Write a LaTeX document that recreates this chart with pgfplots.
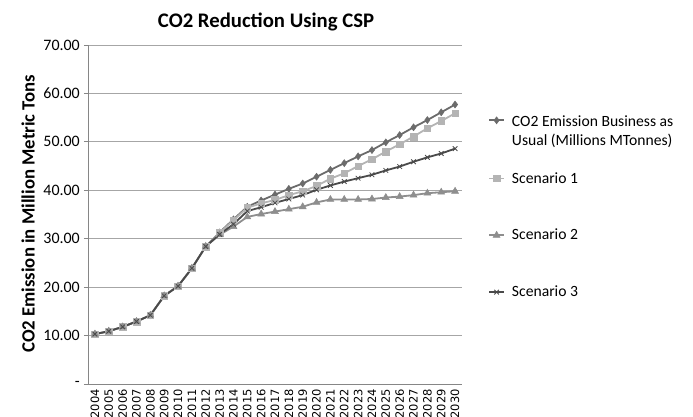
\documentclass[border=0pt]{standalone}
\usepackage{fontspec}
\setmainfont{Carlito}
\newfontfamily\dejavu{DejaVu Sans}
\usepackage{pgfplots}
\usepackage{pgfplotstable}
\pgfplotsset{compat=1.18}
\definecolor{cbau}{HTML}{6B6B6B}
\definecolor{cs1}{HTML}{B4B4B4}
\definecolor{cs2}{HTML}{8E8E8E}
\definecolor{cs3}{HTML}{4A4A4A}
\definecolor{cgrid}{HTML}{A6A6A6}
\definecolor{caxis}{HTML}{868686}
\pgfplotstableread{
year bau s1 s2 s3
2004 10.3 10.3 10.3 10.3
2005 10.9 10.9 10.9 10.9
2006 11.8 11.8 11.8 11.8
2007 12.9 12.9 12.9 12.9
2008 14.2 14.2 14.2 14.2
2009 18.2 18.2 18.2 18.2
2010 20.2 20.2 20.2 20.2
2011 23.9 23.9 23.9 23.9
2012 28.4 28.4 28.4 28.4
2013 31.3 31.2 30.8 30.9
2014 34.0 33.8 32.5 33.0
2015 36.6 36.4 34.5 35.7
2016 37.9 37.3 35.1 36.5
2017 39.1 38.0 35.6 37.4
2018 40.3 39.0 36.1 38.2
2019 41.4 39.8 36.6 39.0
2020 42.8 40.9 37.5 40.1
2021 44.2 42.4 38.1 41.0
2022 45.6 43.5 38.1 41.8
2023 47.0 45.0 38.1 42.5
2024 48.3 46.4 38.2 43.2
2025 49.9 48.0 38.5 44.1
2026 51.4 49.5 38.7 44.9
2027 53.0 51.1 39.0 45.9
2028 54.5 52.8 39.4 46.8
2029 56.1 54.3 39.6 47.6
2030 57.7 55.9 39.8 48.6
}\datatable
\begin{document}
\begin{tikzpicture}
\path[use as bounding box] (-88bp,-33bp) rectangle (605bp,384bp);
\begin{axis}[
  at={(0,0)}, anchor=south west,
  scale only axis, width=374bp, height=339bp,
  xmin=2003.5, xmax=2030.5,
  ymin=0, ymax=70,
  xtick=data,
  ytick={0,10,...,70},
  yticklabels={-,10.00,20.00,30.00,40.00,50.00,60.00,70.00},
  axis x line*=bottom, axis y line*=left,
  axis line style={caxis, line width=0.8bp, -},
  ymajorgrids, grid style={cgrid, line width=0.8bp},
  xtick style={draw=none},
  ytick style={caxis, line width=0.8bp},
  tick align=outside, major tick length=4bp,
  xticklabel style={rotate=90, anchor=east, inner sep=1bp, font=\dejavu\fontsize{11.5}{12}\selectfont,
    /pgf/number format/1000 sep={}, /pgf/number format/assume math mode=true},
  yticklabel style={font=\fontsize{16}{18}\selectfont, inner sep=1bp, xshift=-3bp},
  title={CO2 Reduction Using CSP},
  title style={at={(axis description cs:0.476,1.050)}, anchor=center, font=\bfseries\fontsize{20.8}{24}\selectfont},
  ylabel={CO2 Emission in Million Metric Tons},
  every axis y label/.style={at={(axis description cs:-0.160,0.502)}, rotate=90, anchor=center, font=\bfseries\fontsize{18.8}{22}\selectfont},
  legend style={at={(axis description cs:1.0695,0.806)}, anchor=north west, draw=none, fill=none,
    inner sep=0pt, row sep=40.6bp, column sep=5bp,
    nodes={inner sep=2bp}, font=\fontsize{15.7}{19}\selectfont},
  legend cell align=left,
  legend image code/.code={\draw[mark repeat=2, mark phase=2] plot coordinates {(0bp,0bp) (7.5bp,0bp) (15bp,0bp)};},
]
\addplot[cbau, line width=1.8bp, mark=diamond*, mark size=3.5bp, mark options={solid, fill=cbau, line width=0.5bp}] table[x=year, y=bau] {\datatable};
\addlegendentry{\raisebox{0pt}[\height][0pt]{\begin{tabular}[t]{@{}l@{}}CO2 Emission Business as\\Usual (Millions MTonnes)\end{tabular}}}
\addplot[cs1, line width=1.8bp, mark=square*, mark size=3.3bp, mark options={solid, fill=cs1, line width=0.5bp}] table[x=year, y=s1] {\datatable};
\addlegendentry{Scenario 1}
\addplot[cs2, line width=1.8bp, mark=triangle*, mark size=4bp, mark options={solid, fill=cs2, line width=0.5bp}] table[x=year, y=s2] {\datatable};
\addlegendentry{Scenario 2}
\addplot[cs3, line width=1.8bp, mark=x, mark size=3.3bp, mark options={solid, line width=0.8bp}] table[x=year, y=s3] {\datatable};
\addlegendentry{Scenario 3}
\end{axis}
\end{tikzpicture}
\end{document}
